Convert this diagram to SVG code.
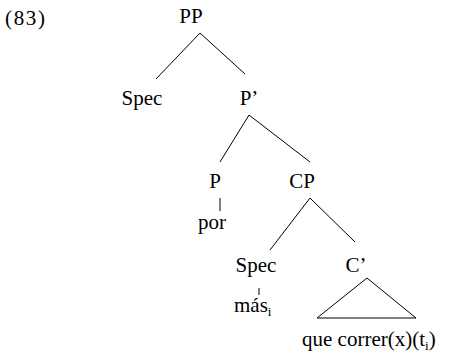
<svg xmlns="http://www.w3.org/2000/svg" width="452" height="363" viewBox="0 0 452 363">
  <style>
    text { font-family: 'Liberation Serif', 'DejaVu Serif', serif; fill: #000; }
    .lbl { font-size: 21px; text-anchor: middle; }
    .st { text-anchor: start; }
    .sub { font-size: 13px; }
    .num { font-size: 21px; }
    .edge { stroke: #000; stroke-width: 1; fill: none; }
  </style>
  <rect width="452" height="363" fill="#fff"/>
  <!-- example number -->
  <text class="num" x="5" y="25" textLength="40" lengthAdjust="spacing">(83)</text>

  <!-- tree branches and the C' triangle -->
  <g id="edges">
    <line class="edge" x1="200" y1="33" x2="156" y2="79"/>
    <line class="edge" x1="200" y1="33" x2="245" y2="74"/>
    <line class="edge" x1="249" y1="115" x2="220" y2="162"/>
    <line class="edge" x1="249" y1="115" x2="310" y2="162"/>
    <line class="edge" x1="220" y1="198" x2="220" y2="211"/>
    <line class="edge" x1="310" y1="198" x2="270" y2="250"/>
    <line class="edge" x1="310" y1="198" x2="355" y2="242"/>
    <line class="edge" x1="259" y1="288" x2="259" y2="295"/>
    <polygon class="edge" points="367,278 317,318 416,318"/>
  </g>

  <g id="pp"><text class="lbl" x="191" y="23">PP</text></g>
  <g id="spec1"><text class="lbl" x="142" y="105">Spec</text></g>
  <g id="pbar"><text class="lbl" x="249" y="105">P’</text></g>
  <g id="p"><text class="lbl" x="215" y="188">P</text></g>
  <g id="cp"><text class="lbl" x="302" y="188">CP</text></g>
  <g id="por"><text class="lbl" x="212" y="229">por</text></g>
  <g id="spec2"><text class="lbl" x="256" y="272">Spec</text></g>
  <g id="cbar"><text class="lbl" x="356" y="272">C’</text></g>
  <g id="mas"><text class="lbl st" x="234" y="312">más<tspan class="sub" dy="4">i</tspan></text></g>
  <g id="que"><text class="lbl st" x="302" y="346">que correr(x)(t<tspan class="sub" dy="4">i</tspan><tspan dy="-4">)</tspan></text></g>
</svg>
